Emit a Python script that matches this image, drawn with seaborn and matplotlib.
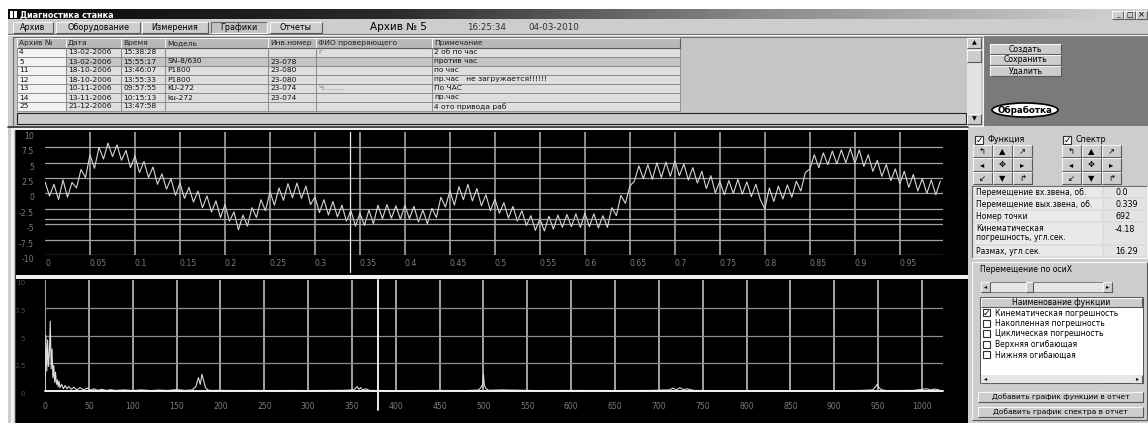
import numpy as np
import pandas as pd
import matplotlib
matplotlib.use('Agg')
import matplotlib.pyplot as plt
import seaborn as sns
from matplotlib.patches import Rectangle, Ellipse
from matplotlib.colors import LinearSegmentedColormap

# ── data ─────────────────────────────────────────────────
# kinematic error, arc sec, sampled every 0.005 rev
signal = [
    1.9, -0.4, 1.5, -1.0, 2.2, -0.6, 1.8, 0.9, 3.9, 2.6,
    6.3, 4.1, 7.5, 5.6, 8.2, 6.0, 7.9, 5.4, 7.0, 4.2,
    6.1, 3.4, 5.2, 2.6, 4.3, 1.5, 3.2, 0.7, 2.4, -0.3,
    1.7, -0.8, 1.0, -1.4, 0.4, -2.3, -0.4, -3.0, -1.2, -3.9,
    -1.8, -4.5, -3.0, -5.9, -3.5, -5.3, -2.3, -3.9, -1.0, -2.8,
    0.3, -1.9, 0.9, -1.1, 1.6, -0.7, 1.7, -0.8, 1.2, -1.8,
    -0.6, -3.1, -1.0, -3.5, -1.3, -3.8, -1.9, -4.5, -2.8, -5.3,
    -3.2, -5.2, -2.7, -4.9, -1.9, -4.1, -1.8, -4.0, -2.0, -4.2,
    -1.9, -4.1, -2.1, -4.6, -2.7, -4.9, -2.4, -3.9, -0.6, -2.2,
    0.4, -1.9, 1.1, -1.0, 1.5, -1.2, 0.8, -2.0, -0.2, -2.8,
    -0.9, -3.2, -1.5, -4.0, -2.1, -4.5, -2.8, -5.2, -3.6, -6.0,
    -4.1, -6.1, -3.7, -5.8, -3.5, -5.5, -3.4, -5.4, -3.3, -5.5,
    -3.2, -5.4, -3.3, -5.6, -3.6, -5.5, -2.3, -3.6, -0.3, -1.6,
    1.2, 2.0, 4.5, 2.4, 4.7, 2.3, 5.0, 2.6, 5.1, 2.8,
    5.3, 2.9, 4.8, 2.2, 4.2, 1.7, 3.6, 0.8, 2.9, 0.1,
    2.0, -0.2, 2.1, 0.0, 2.3, -0.1, 1.9, -0.5, 1.5, -1.0,
    -2.5, 0.9, -1.3, 1.2, -0.9, 1.4, -0.6, 2.0, 0.4, 3.4,
    4.0, 6.3, 4.2, 6.6, 4.7, 6.9, 4.8, 7.1, 5.0, 7.3,
    4.9, 7.1, 4.4, 6.3, 3.6, 5.4, 2.8, 4.7, 2.1, 4.0,
    1.6, 3.6, 1.0, 3.1, 0.4, 2.4, 0.0, 2.2, -0.2, 2.0,
]
sig_step = 0.005

spec_freq = [0, 1, 2, 3, 4, 5, 6, 7, 8, 9, 10, 11, 12, 13, 14, 15, 16, 17, 19, 21,
             23, 25, 27, 30, 33, 36, 40, 44, 48, 52, 56, 60, 65, 70, 75, 80, 90, 100,
             110, 120, 130, 140, 150, 160, 168, 172, 175, 177, 179, 181, 183, 186, 190,
             200, 220, 240, 260, 280, 300, 320, 340, 352, 356, 358, 360, 362, 366, 370,
             390, 420, 450, 480, 494, 497, 499, 500, 501, 503, 506, 520, 560, 600, 650,
             690, 712, 716, 720, 724, 728, 732, 740, 760, 800, 850, 900, 930, 944, 947,
             949, 951, 954, 960, 990, 1000, 1005, 1010, 1015, 1020]
spec_amp = [0.0, 5.0, 1.8, 4.6, 2.2, 3.4, 6.3, 2.0, 3.8, 1.2, 2.3, 0.8, 1.7, 0.6, 1.0, 0.4, 0.9, 0.3, 0.6, 0.2,
            0.5, 0.2, 0.4, 0.15, 0.35, 0.1, 0.3, 0.1, 0.25, 0.08, 0.2, 0.06, 0.15, 0.05, 0.12, 0.05, 0.1, 0.04,
            0.1, 0.04, 0.08, 0.05, 0.12, 0.05, 0.1, 0.4, 1.2, 0.6, 1.5, 0.9, 0.3, 0.08, 0.05,
            0.06, 0.04, 0.05, 0.04, 0.05, 0.04, 0.05, 0.06, 0.1, 0.4, 0.15, 0.3, 0.1, 0.2, 0.05,
            0.04, 0.04, 0.05, 0.04, 0.08, 0.3, 0.6, 1.5, 0.5, 0.2, 0.06, 0.1, 0.04, 0.05, 0.04,
            0.05, 0.1, 0.25, 0.1, 0.3, 0.12, 0.2, 0.05, 0.04, 0.03, 0.04, 0.03, 0.05, 0.1, 0.4,
            0.6, 0.3, 0.1, 0.04, 0.05, 0.15, 0.2, 0.1, 0.18, 0.08]

cursor_x = 0.339
cursor_y = -4.18
cursor_f = 380

top_xticks = [0, 0.05, 0.1, 0.15, 0.2, 0.25, 0.3, 0.35, 0.4, 0.45,
              0.5, 0.55, 0.6, 0.65, 0.7, 0.75, 0.8, 0.85, 0.9, 0.95]
top_xlabels = ['0', '0.05', '0.1', '0.15', '0.2', '0.25', '0.3', '0.35', '0.4', '0.45',
               '0.5', '0.55', '0.6', '0.65', '0.7', '0.75', '0.8', '0.85', '0.9', '0.95']
top_yticks = [-10, -7.5, -5, -2.5, 0, 2.5, 5, 7.5, 10]
top_ylabels = ['-10', '-7.5', '-5', '-2.5', '0', '2.5', '5', '7.5', '10']
bot_xticks = [0, 50, 100, 150, 200, 250, 300, 350, 400, 450, 500,
              550, 600, 650, 700, 750, 800, 850, 900, 950, 1000]
bot_xlabels = ['0', '50', '100', '150', '200', '250', '300', '350', '400', '450', '500',
               '550', '600', '650', '700', '750', '800', '850', '900', '950', '1000']
bot_yticks = [0, 2.5, 5, 7.5, 10]
bot_ylabels = ['0', '2.5', '5', '7.5', '10']

tabs = ['Архив', 'Оборудование', 'Измерения', 'Графики', 'Отчеты']
col_names = ['Архив №', 'Дата', 'Время', 'Модель', 'Инв.номер', 'ФИО проверяющего', 'Примечание']
arch_no = ['4', '5', '11', '12', '13', '14', '25']
dates = ['13-02-2006', '13-02-2006', '18-10-2006', '18-10-2006', '10-11-2006', '13-11-2006', '21-12-2006']
times = ['15:38:28', '15:55:17', '13:46:07', '13:55:33', '09:57:55', '10:15:13', '13:47:58']
models = ['', 'SN-8/630', 'P1800', 'P1800', 'KU-272', 'ku-272', '']
inv_no = ['', '23-078', '23-080', '23-080', '23-074', '23-074', '']
checker = ['г', '', '', '', 'Ч.........', '', '']
notes = ['2 об по час', 'против час', 'по час', 'пр.час   не загружается!!!!!!',
         'По ЧАС', 'пр.час', '4 ото привода раб']

info_labels = ['Перемещение вх.звена, об.', 'Перемещение вых.звена, об.', 'Номер точки',
               'Кинематическая\nпогрешность, угл.сек.', 'Размах, угл.сек.']
info_values = ['0.0', '0.339', '692', '-4.18', '16.29']
func_names = ['Кинематическая погрешность', 'Накопленная погрешность', 'Циклическая погрешность',
              'Верхняя огибающая', 'Нижняя огибающая']
func_checked = [True, False, False, False, False]

# ── figure / window chrome ───────────────────────────────
sns.set_theme(style='dark')
plt.rcParams['font.family'] = ['DejaVu Sans']

W, H = 1148, 423
fig = plt.figure(figsize=(W / 100, H / 100), dpi=100)
fig.patch.set_facecolor('white')
ui = fig.add_axes([0, 0, 1, 1])
ui.axis('off')

FACE = '#cdcdcd'
FS = 5.6


def box(x, y, w, h, fc, ec='none', lw=0.7, z=1):
    ui.add_patch(Rectangle((x, y), w, h, facecolor=fc, edgecolor=ec, lw=lw, zorder=z))


def bevel(x, y, w, h, fc=FACE, sunken=False, z=2):
    box(x, y, w, h, fc, z=z)
    hi, lo = ('#6a6a6a', '#f6f6f6') if sunken else ('#f6f6f6', '#5a5a5a')
    ui.plot([x, x, x + w], [y + h, y, y], color=hi, lw=0.8, zorder=z + 0.1, solid_capstyle='butt')
    ui.plot([x, x + w, x + w], [y + h, y + h, y], color=lo, lw=0.8, zorder=z + 0.1, solid_capstyle='butt')


def label(x, y, s, fs=FS, ha='left', color='black', weight='normal', z=4):
    ui.text(x, y, s, fontsize=fs, ha=ha, va='center', color=color, fontweight=weight, zorder=z)


def button(x, y, w, h, s, fs=FS, sunken=False, fc=FACE):
    bevel(x, y, w, h, fc=fc, sunken=sunken, z=3)
    label(x + w / 2, y + h / 2, s, fs=fs, ha='center')


def checkbox(x, y, on, size=8):
    box(x, y - size / 2, size, size, 'white', ec='#303030', lw=0.8, z=4)
    if on:
        label(x + size / 2, y, '✓', fs=6.5, ha='center', weight='bold', z=5)


# window face
box(8, 10, W - 8, H - 10, FACE, z=0)

# title bar
tb_cmap = LinearSegmentedColormap.from_list('tb', ['#0a0a0a', '#2a2a2a', '#8c8c8c', '#d4d4d4'])
ui.imshow(np.linspace(0, 1, 300)[None, :], cmap=tb_cmap, extent=(8, W, 19.5, 9.5),
          aspect='auto', zorder=1)
box(10, 11.5, 2.5, 6.5, 'white', z=2)
box(14, 11.5, 2.5, 6.5, 'white', z=2)
label(20, 14.5, 'Диагностика станка', fs=5.8, color='white', weight='bold')
for bx in (1112, 1124, 1136):
    bevel(bx, 11, 11, 8, z=3)
label(1117.5, 15.5, '_', fs=5, ha='center')
label(1129.5, 15, '□', fs=5, ha='center')
label(1141.5, 15, '×', fs=6, ha='center')

# tabs
tab_x = [(13, 53), (56, 140), (142, 208), (211, 267), (270, 322)]
for name, (x0, x1) in zip(tabs, tab_x):
    button(x0, 22, x1 - x0, 11, name, fs=5.8, sunken=(name == 'Графики'),
           fc='#c2c2c2' if name == 'Графики' else FACE)
label(370, 27.5, 'Архив № 5', fs=7.5)
label(467, 27.5, '16:25:34', fs=6.3, color='#303030')
label(528, 27.5, '04-03-2010', fs=6.3, color='#303030')
ui.plot([8, W], [34.5, 34.5], color='#6a6a6a', lw=0.8, zorder=2)
ui.plot([8, W], [35.5, 35.5], color='#f6f6f6', lw=0.8, zorder=2)

# archive table
bevel(13, 37, 970, 89, fc='#c6c6c6', sunken=True, z=1)
col_x = [17, 66, 121, 165, 268, 316, 432, 680]
box(17, 38, 663, 10, '#b4b4b4', z=2)
for i, name in enumerate(col_names):
    bevel(col_x[i], 38, col_x[i + 1] - col_x[i], 10, fc='#b8b8b8', z=2)
    label(col_x[i] + 2, 43, name, fs=5.4, color='#202020')
row_h = 9
columns = [arch_no, dates, times, models, inv_no, checker, notes]
for r in range(len(arch_no)):
    y0 = 48 + r * row_h
    for c, col in enumerate(columns):
        fc = '#f2f2f2' if c == 0 else ('#c4c4c4' if r == 1 else '#dedede')
        box(col_x[c], y0, col_x[c + 1] - col_x[c], row_h, fc, ec='#7a7a7a', lw=0.5, z=2)
        txt_color = '#808080' if c == 5 else '#101010'
        label(col_x[c] + 2, y0 + row_h / 2, col[r], fs=5.4, color=txt_color)
box(17, 113, 949, 11, '#cacaca', ec='#202020', lw=0.8, z=2)

# scroll bar of table
box(967, 38, 14, 87, '#e2e2e2', z=2)
button(967, 38, 14, 10, '▲', fs=4.5)
button(967, 50, 14, 12, '', fs=4.5)
button(967, 114, 14, 10, '▼', fs=4.5)

# dark side panel with buttons
box(984, 36, W - 984, 90, '#7a7a7a', z=1)
for s, y0 in zip(['Создать', 'Сохранить', 'Удалить'], [44, 55, 66]):
    button(990, y0, 71, 10, s, fs=5.6)
ui.add_patch(Ellipse((1025, 110), 66, 14, facecolor='white', edgecolor='black', lw=1.2, zorder=3))
label(1025, 110, 'Обработка', fs=6.3, ha='center', weight='bold')

# chart panels (black) with light frames
ui.plot([8, 968], [127.5, 127.5], color='#303030', lw=1.2, zorder=2)
box(11, 128.5, 957, 2, '#f0f0f0', z=2)
box(11, 128.5, 2.5, H - 128, '#f0f0f0', z=2)
ui.plot([14.8, 14.8], [130, H], color='#404040', lw=0.8, zorder=2)
box(16, 130.5, 952, 145, 'black', z=2)
box(16, 275.5, 952, 3.5, '#f0f0f0', z=2)
box(16, 279.5, 952, H - 279.5, 'black', z=2)

# ── right control panel ─────────────────────────────────
box(968, 128, W - 968, H - 128, FACE, z=1)
checkbox(975, 140, True)
label(987, 140, 'Функция', fs=5.8)
checkbox(1063, 140, True)
label(1075, 140, 'Спектр', fs=5.8)
arrows = [['↰', '▲', '↗'], ['◂', '✥', '▸'], ['↙', '▼', '↱']]
for gx in (973, 1062):
    for r in range(3):
        for c in range(3):
            bx = gx + c * 20
            by = 145 + r * 13.5
            button(bx, by, 19, 12.5, arrows[r][c], fs=6)

bevel(972, 186, 175, 72, fc='#dcdcdc', sunken=True, z=2)
info_rows = [(187, 11), (199, 11), (211, 11), (223, 22), (246, 11)]
for lab, val, (y0, h) in zip(info_labels, info_values, info_rows):
    box(974, y0 + 0.5, 128, h - 1.5, '#e9e9e9', z=3)
    box(1104, y0 + 0.5, 42, h - 1.5, '#e4e4e4', z=3)
    ty = y0 + 5.5 if h <= 11 else y0 + 6
    if '\n' in lab:
        l1, l2 = lab.split('\n')
        label(976, y0 + 5.5, l1, fs=5.5)
        label(976, y0 + 14.5, l2, fs=5.5)
    else:
        label(976, ty, lab, fs=5.5)
    label(1115, ty, val, fs=5.8)

bevel(972, 262, 175, 158, fc=FACE, sunken=False, z=2)
label(980, 270, 'Перемещение по осиX', fs=5.6)
box(981, 282, 131, 10, '#e6e6e6', ec='#707070', lw=0.6, z=3)
button(981, 282, 9, 10, '◂', fs=4.5)
button(1103, 282, 9, 10, '▸', fs=4.5)
button(1026, 282, 7, 10, '', fs=4.5)

box(980, 297, 163, 86, 'white', ec='#505050', lw=0.7, z=3)
button(981, 298, 161, 9, 'Наименование функции', fs=5.5)
for i, (name, on) in enumerate(zip(func_names, func_checked)):
    yy = 313 + i * 10.5
    checkbox(983, yy, on, size=7)
    label(995, yy, name, fs=5.5)
box(981, 375, 161, 8, '#e6e6e6', z=4)
button(981, 375, 9, 8, '◂', fs=4.5)
button(1133, 375, 9, 8, '▸', fs=4.5)
button(990, 375, 110, 8, '', fs=4.5)

button(978, 392, 165, 10, 'Добавить график функции в отчет', fs=5.4)
button(978, 407, 165, 10, 'Добавить график спектра в отчет', fs=5.4)

ui.set_xlim(0, W)
ui.set_ylim(H, 0)


def px_axes(x0, y0, x1, y1):
    return fig.add_axes([x0 / W, 1 - y1 / H, (x1 - x0) / W, (y1 - y0) / H])


TICK = '#7c7c7c'

# ── top chart: kinematic error ───────────────────────────
ax1 = px_axes(45, 132, 943, 255)
sig = pd.DataFrame({'t': np.arange(len(signal)) * sig_step, 'v': signal})
sns.lineplot(data=sig, x='t', y='v', ax=ax1, color='#d6d6d6', lw=0.8, estimator=None)
ax1.set_facecolor('black')
ax1.set_xlim(0, 0.998)
ax1.set_ylim(-10, 10)
ax1.set_xticks(top_xticks, top_xlabels)
ax1.set_yticks(top_yticks, top_ylabels)
ax1.grid(True, axis='x', color='#b4b4b4', lw=1.1)
ax1.grid(True, axis='y', color='#a2a2a2', lw=0.9)
ax1.xaxis.get_gridlines()[0].set_visible(False)
ax1.yaxis.get_gridlines()[-1].set_visible(False)
ax1.tick_params(axis='x', length=0, pad=3, labelsize=5.6, labelcolor=TICK)
ax1.tick_params(axis='y', length=0, pad=8, labelsize=5.6, labelcolor=TICK)
for t in ax1.get_xticklabels():
    t.set_ha('left')
for t in ax1.get_yticklabels():
    t.set_va('top')
ax1.axvline(cursor_x, ymin=-0.14, ymax=1, clip_on=False, color='#e6e6e6', lw=0.9)
ax1.axhline(cursor_y, color='#a8a8a8', lw=0.9)
ax1.set_xlabel('')
ax1.set_ylabel('')
for s in ax1.spines.values():
    s.set_visible(False)

# ── bottom chart: spectrum ──────────────────────────────
ax2 = px_axes(45, 280, 943, 391)
sns.lineplot(x=spec_freq, y=spec_amp, ax=ax2, color='#dcdcdc', lw=0.8,
             estimator=None, sort=False)
ax2.set_facecolor('black')
ax2.set_xlim(0, 1024)
ax2.set_ylim(0, 10)
ax2.set_xticks(bot_xticks, bot_xlabels)
ax2.set_yticks(bot_yticks, bot_ylabels)
ax2.grid(True, axis='x', color='#cfcfcf', lw=1.1)
ax2.grid(True, axis='y', color='#8e8e8e', lw=0.9)
ax2.yaxis.get_gridlines()[-1].set_visible(False)
ax2.yaxis.get_gridlines()[0].set_visible(False)
ax2.axhline(0, color='#f2f2f2', lw=1.4, clip_on=False)
ax2.tick_params(axis='x', length=0, pad=8, labelsize=5.6, labelcolor=TICK)
ax2.tick_params(axis='y', length=0, pad=14, labelsize=5.2, labelcolor='#4a4a4a')
for t in ax2.get_yticklabels():
    t.set_va('top')
ax2.axvline(cursor_f, ymin=-0.17, ymax=1, clip_on=False, color='#ececec', lw=1.4)
for s in ax2.spines.values():
    s.set_visible(False)

fig.savefig('out.png', dpi=100, facecolor=fig.get_facecolor())
